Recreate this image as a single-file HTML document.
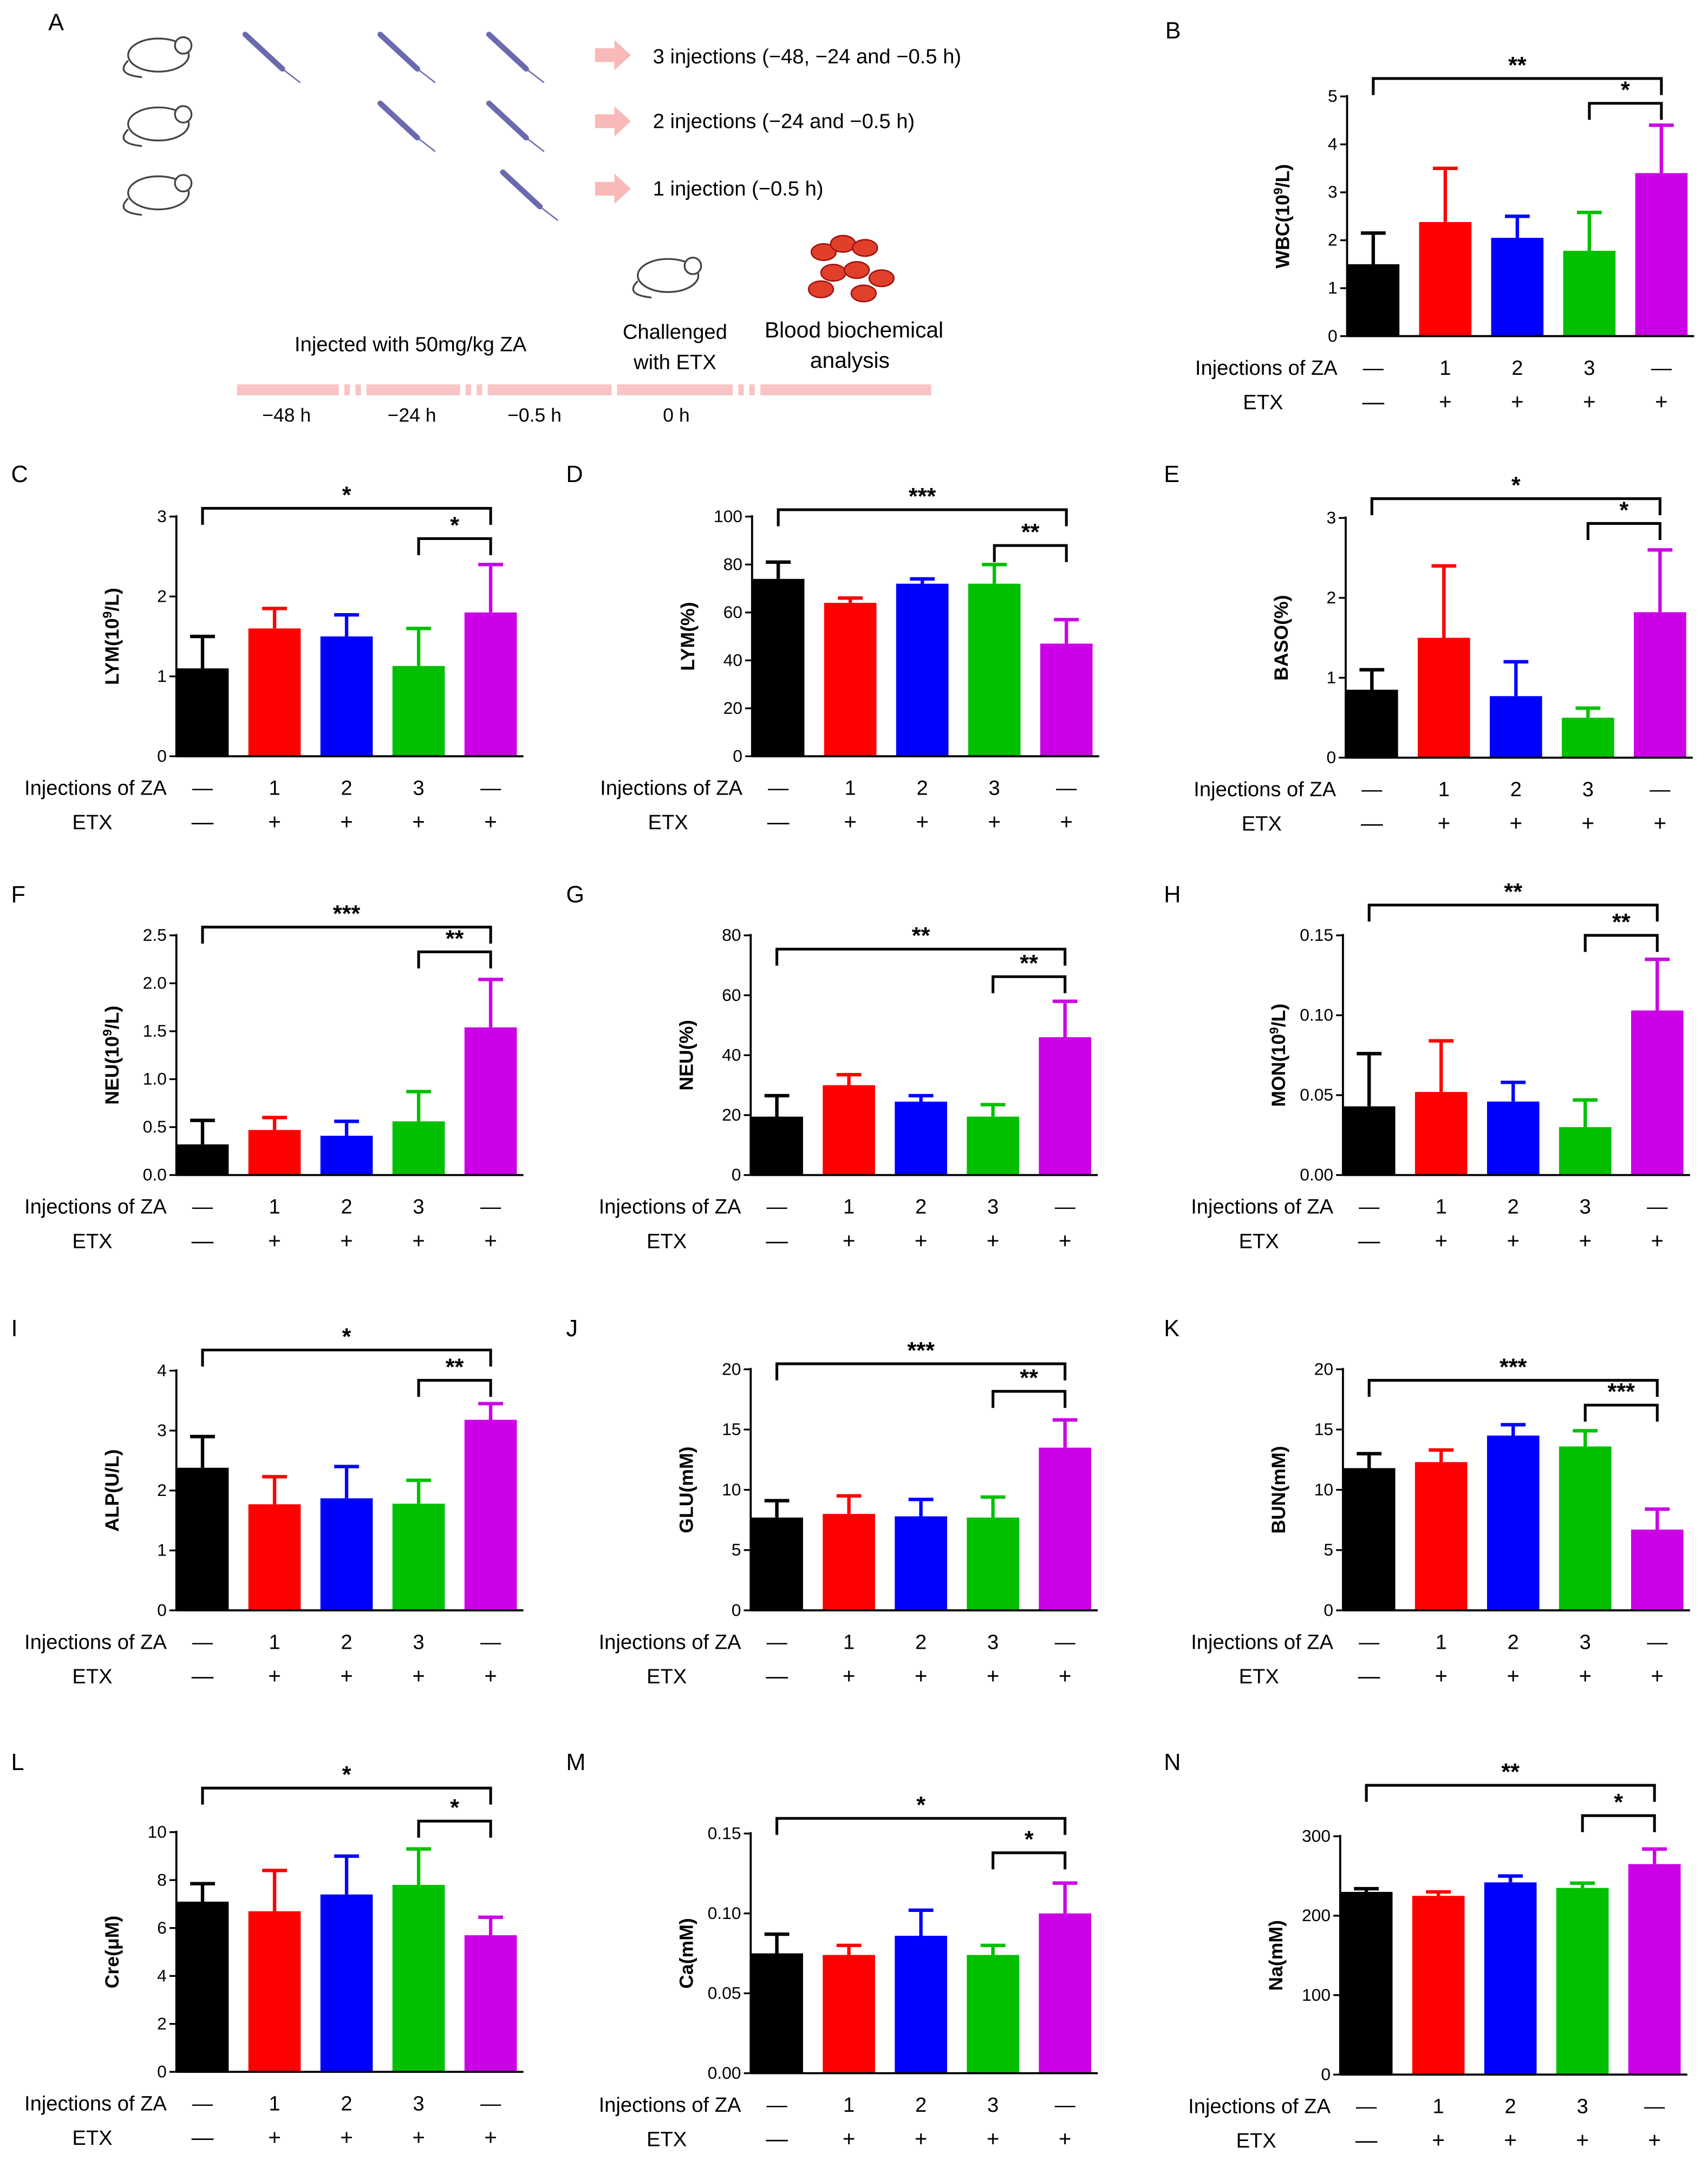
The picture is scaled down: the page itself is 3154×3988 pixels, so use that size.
<!DOCTYPE html>
<html><head><meta charset="utf-8"><style>
html,body{margin:0;padding:0;background:#fff}
svg{display:block}
text{font-family:"Liberation Sans",sans-serif;fill:#000}
</style></head><body>
<svg id="fig" width="3154" height="3988" viewBox="0 0 1240 1568" xmlns="http://www.w3.org/2000/svg">
<g id="panelA">
<text x="35" y="22" font-size="17">A</text>
<g fill="#fff" stroke="#444" stroke-width="1.3">
<ellipse cx="115" cy="40" rx="22" ry="12"/><circle cx="133" cy="33" r="6"/><path d="M93 44 q-10 10 10 12" fill="none"/>
<ellipse cx="115" cy="90" rx="22" ry="12"/><circle cx="133" cy="83" r="6"/><path d="M93 94 q-10 10 10 12" fill="none"/>
<ellipse cx="115" cy="140" rx="22" ry="12"/><circle cx="133" cy="133" r="6"/><path d="M93 144 q-10 10 10 12" fill="none"/>
<ellipse cx="485" cy="200" rx="22" ry="12"/><circle cx="503" cy="193" r="6"/><path d="M463 204 q-10 10 10 12" fill="none"/>
</g>
<g stroke="#6a6ab0" stroke-width="4" stroke-linecap="round">
<line x1="178" y1="25" x2="205" y2="50"/><line x1="276" y1="25" x2="303" y2="50"/><line x1="355" y1="25" x2="382" y2="50"/>
<line x1="276" y1="75" x2="303" y2="100"/><line x1="355" y1="75" x2="382" y2="100"/><line x1="365" y1="125" x2="392" y2="150"/>
</g>
<g stroke="#6a6ab0" stroke-width="1"><line x1="205" y1="50" x2="218" y2="60"/><line x1="303" y1="50" x2="316" y2="60"/><line x1="382" y1="50" x2="395" y2="60"/><line x1="303" y1="100" x2="316" y2="110"/><line x1="382" y1="100" x2="395" y2="110"/><line x1="392" y1="150" x2="405" y2="160"/></g>
<g fill="#f9b9b9">
<path d="M432 35h14v-6l12 11-12 11v-6h-14z"/><path d="M432 83h14v-6l12 11-12 11v-6h-14z"/><path d="M432 132h14v-6l12 11-12 11v-6h-14z"/>
</g>
<text x="474" y="46" font-size="15">3 injections (−48, −24 and −0.5 h)</text>
<text x="474" y="93" font-size="15">2 injections (−24 and −0.5 h)</text>
<text x="474" y="142" font-size="15">1 injection (−0.5 h)</text>
<g fill="#e0402a" stroke="#a01010">
<ellipse cx="598" cy="183" rx="9" ry="6"/><ellipse cx="612" cy="177" rx="9" ry="6"/><ellipse cx="628" cy="180" rx="9" ry="6"/><ellipse cx="605" cy="198" rx="9" ry="6"/><ellipse cx="622" cy="196" rx="9" ry="6"/><ellipse cx="640" cy="202" rx="9" ry="6"/><ellipse cx="596" cy="210" rx="9" ry="6"/><ellipse cx="627" cy="213" rx="9" ry="6"/>
</g>
<text x="298" y="255" font-size="15" text-anchor="middle">Injected with 50mg/kg ZA</text>
<text x="490" y="246" font-size="15" text-anchor="middle">Challenged</text>
<text x="490" y="268" font-size="15" text-anchor="middle">with ETX</text>
<text x="620" y="245" font-size="16" text-anchor="middle">Blood biochemical</text>
<text x="617" y="267" font-size="16" text-anchor="middle">analysis</text>
<g fill="#f9c4c4">
<rect x="172" y="279" width="74" height="8"/><rect x="250" y="279" width="4" height="8"/><rect x="258" y="279" width="4" height="8"/><rect x="266" y="279" width="68" height="8"/><rect x="338" y="279" width="4" height="8"/><rect x="346" y="279" width="4" height="8"/><rect x="354" y="279" width="90" height="8"/><rect x="448" y="279" width="84" height="8"/><rect x="536" y="279" width="4" height="8"/><rect x="544" y="279" width="4" height="8"/><rect x="552" y="279" width="124" height="8"/>
</g>
<text x="208" y="306" font-size="14" text-anchor="middle">−48 h</text>
<text x="299" y="306" font-size="14" text-anchor="middle">−24 h</text>
<text x="388" y="306" font-size="14" text-anchor="middle">−0.5 h</text>
<text x="491" y="306" font-size="14" text-anchor="middle">0 h</text>
</g>
</svg>
<script>
const panelLetters=["B","C","D","E","F","G","H","I","J","K","L","M","N"];
const yTitles=["WBC(10^9/L)","LYM(10^9/L)","LYM(%)","BASO(%)","NEU(10^9/L)","NEU(%)","MON(10^9/L)","ALP(U/L)","GLU(mM)","BUN(mM)","Cre(μM)","Ca(mM)","Na(mM)"];
const yMax=[5,3,100,3,2.5,80,0.15,4,20,20,10,0.15,300];
const yTickLabels=[["0","1","2","3","4","5"],["0","1","2","3"],["0","20","40","60","80","100"],["0","1","2","3"],["0.0","0.5","1.0","1.5","2.0","2.5"],["0","20","40","60","80"],["0.00","0.05","0.10","0.15"],["0","1","2","3","4"],["0","5","10","15","20"],["0","5","10","15","20"],["0","2","4","6","8","10"],["0.00","0.05","0.10","0.15"],["0","100","200","300"]];
const yTickValues=[[0,1,2,3,4,5],[0,1,2,3],[0,20,40,60,80,100],[0,1,2,3],[0,0.5,1,1.5,2,2.5],[0,20,40,60,80],[0,0.05,0.1,0.15],[0,1,2,3,4],[0,5,10,15,20],[0,5,10,15,20],[0,2,4,6,8,10],[0,0.05,0.1,0.15],[0,100,200,300]];
const groups=["ctrl","ZA1","ZA2","ZA3","ETX"];
const injRow=["—","1","2","3","—"];
const etxRow=["—","+","+","+","+"];
const means=[[1.5,2.38,2.05,1.78,3.4],[1.1,1.6,1.5,1.13,1.8],[74,64,72,72,47],[0.85,1.5,0.77,0.5,1.82],[0.32,0.47,0.41,0.56,1.54],[19.5,30,24.5,19.5,46],[0.043,0.052,0.046,0.030,0.103],[2.38,1.77,1.87,1.78,3.18],[7.7,8.0,7.8,7.7,13.5],[11.8,12.3,14.5,13.6,6.7],[7.1,6.7,7.4,7.8,5.7],[0.075,0.074,0.086,0.074,0.100],[230,225,242,235,265]];
const errs=[[0.65,1.12,0.45,0.8,1.0],[0.4,0.25,0.27,0.47,0.6],[7,2,2,8,10],[0.25,0.9,0.43,0.12,0.78],[0.25,0.13,0.15,0.31,0.5],[7,3.5,2,4,12],[0.033,0.032,0.012,0.017,0.032],[0.52,0.46,0.53,0.39,0.27],[1.4,1.5,1.4,1.7,2.3],[1.2,1.0,0.9,1.3,1.7],[0.75,1.7,1.6,1.5,0.75],[0.012,0.006,0.016,0.006,0.019],[4,5,8,6,19]];
const bigStars=["**","*","***","*","***","**","**","*","***","***","*","*","**"];
const smallStars=["*","*","**","*","**","**","**","**","**","***","*","*","*"];
const axX=[978,128,546,977,128,545,975,128,545,975,128,545,973];
const base=[244,549,549,550,853,853,853,1169,1169,1169,1504,1505,1506];
const topY=[70,375,375,376,679,679,679,995,994,994,1330,1331,1333];
const bigY=[57,369,370,362,673,689,657,980,990,1002,1298,1320,1296];
const smallY=[75,391,396,380,691,709,679,1002,1010,1020,1322,1345,1318];
const letterPos=[[846,28],[8,350],[411,350],[845,350],[8,655],[411,655],[845,655],[8,970],[411,970],[845,970],[8,1285],[411,1285],[845,1285]];
const colors=["#000000","#ff0000","#0000ff","#00c000","#cc00e6"];
const NS="http://www.w3.org/2000/svg";
const svg=document.getElementById("fig");
function mk(tag,attrs,parent,txt){const e=document.createElementNS(NS,tag);for(const k in attrs)e.setAttribute(k,attrs[k]);if(txt!==undefined)e.textContent=txt;parent.appendChild(e);return e;}
panelLetters.forEach((L,p)=>{
  const g=mk("g",{},svg);
  
  
  const yS=v=>base[p]-(v/yMax[p])*(base[p]-topY[p]);
  const xS=i=>axX[p]+19+i*52.3;
  const lt=mk("text",{x:letterPos[p][0],y:letterPos[p][1],"font-size":17},g,L);
  
  
  means[p].forEach((m,i)=>{
    const cx=xS(i),y=yS(m),ye=yS(m+errs[p][i]);
    const ln=mk("line",{x1:cx,x2:cx,y1:y,y2:ye,stroke:colors[i],"stroke-width":2.5},g);
    
    
    mk("line",{x1:cx-9,x2:cx+9,y1:ye,y2:ye,stroke:colors[i],"stroke-width":2.5},g);
    const r=mk("rect",{x:cx-19,y:y,width:38,height:base[p]-y,fill:colors[i]},g);
    
    
  });
  const ya=mk("line",{x1:axX[p],x2:axX[p],y1:topY[p]-1,y2:base[p],stroke:"#000","stroke-width":1.5},g);
  
  
  const xa=mk("line",{x1:axX[p],x2:axX[p]+252,y1:base[p],y2:base[p],stroke:"#000","stroke-width":1.5},g);
  
  
  yTickValues[p].forEach((v,k)=>{
    const y=yS(v);
    mk("line",{x1:axX[p]-5,x2:axX[p],y1:y,y2:y,stroke:"#000","stroke-width":1.3},g);
    const t=mk("text",{x:axX[p]-7,y:y+4,"font-size":12.5,"text-anchor":"end"},g,yTickLabels[p][k]);
    
    
  });
  const cy=(base[p]+topY[p])/2, tx=axX[p]-42;
  const yt=mk("text",{x:tx,y:cy,"font-size":14,"font-weight":"bold","text-anchor":"middle",transform:`rotate(-90 ${tx} ${cy})`},g);
  
  
  const parts=yTitles[p].split("^");
  if(parts.length>1){const rest=parts[1].slice(1);mk("tspan",{},yt,parts[0]);mk("tspan",{dy:-5,"font-size":9},yt,parts[1][0]);mk("tspan",{dy:5},yt,rest);}
  else yt.textContent=yTitles[p];
  const r1=mk("text",{x:axX[p]-7,y:base[p]+28,"font-size":15,"text-anchor":"end"},g,"Injections of ZA");
  
  
  const r2=mk("text",{x:axX[p]-61,y:base[p]+53,"font-size":15,"text-anchor":"middle"},g,"ETX");
  
  
  groups.forEach((gname,i)=>{
    mk("text",{x:xS(i),y:base[p]+28,"font-size":15,"text-anchor":"middle"},g,injRow[i]);
    mk("text",{x:xS(i),y:base[p]+53,"font-size":16,"text-anchor":"middle"},g,etxRow[i]);
  });
  const x0=xS(0),x3=xS(3),x4=xS(4);
  const bb=mk("path",{d:`M${x0} ${bigY[p]+12}V${bigY[p]}H${x4}V${bigY[p]+12}`,fill:"none",stroke:"#000","stroke-width":2},g);
  
  
  mk("text",{x:(x0+x4)/2,y:bigY[p]-4,"font-size":17,"font-weight":"bold","text-anchor":"middle"},g,bigStars[p]);
  const sb=mk("path",{d:`M${x3} ${smallY[p]+12}V${smallY[p]}H${x4}V${smallY[p]+12}`,fill:"none",stroke:"#000","stroke-width":2},g);
  
  
  mk("text",{x:(x3+x4)/2,y:smallY[p]-4,"font-size":17,"font-weight":"bold","text-anchor":"middle"},g,smallStars[p]);
});
</script>
</body></html>
